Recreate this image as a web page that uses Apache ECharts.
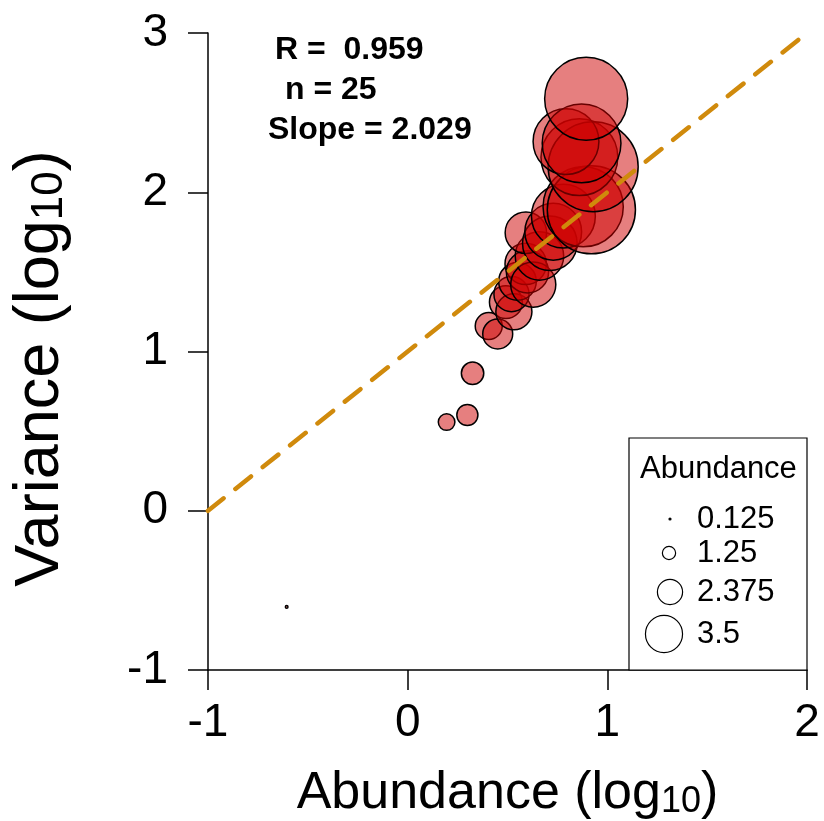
<!DOCTYPE html>
<html>
<head>
<meta charset="utf-8">
<script src="https://cdn.jsdelivr.net/npm/echarts@6/dist/echarts.min.js"></script>
<style>
html,body{margin:0;padding:0;background:#fff;}
#chart{width:824px;height:821px;}
</style>
</head>
<body>
<div id="chart"></div>
<script>
// log10 abundance
const abundanceLog = [-0.606, 0.195, 0.299, 0.325, 0.406, 0.451, 0.492, 0.532, 0.52, 0.55, 0.591, 0.60, 0.629, 0.66, 0.592, 0.712, 0.729, 0.78, 0.879, 0.92, 0.86, 0.929, 0.793, 0.871, 0.894];
// log10 variance
const varianceLog = [-0.604, 0.557, 0.601, 0.863, 1.16, 1.11, 1.31, 1.25, 1.36, 1.44, 1.55, 1.50, 1.42, 1.60, 1.746, 1.68, 1.752, 1.85, 1.909, 1.89, 2.22, 2.16, 2.318, 2.307, 2.587];
const fitX = [-1, 2];
const fitY = [0, 3];
const xTicks = [-1, 0, 1, 2];
const yTicks = [-1, 0, 1, 2, 3];
const legendValues = [0.125, 1.25, 2.375, 3.5];
const statsText = ['R =  0.959', 'n = 25', 'Slope = 2.029'];

const R_PER_UNIT = 5.3;

const chart = echarts.init(document.getElementById('chart'));
const FONT = '"Liberation Sans", Arial, sans-serif';

const pts = abundanceLog.map((x, i) => [x, varianceLog[i]]);
const fit = fitX.map((x, i) => [x, fitY[i]]);

const gridLeft = 208, gridTop = 33, gridRight = 17, gridBottom = 151;

const legendGraphics = [];
const legTop = 438, legLeft = 629, legRight = 807, legBottom = 670;
legendGraphics.push({
  type: 'rect', shape: {x: legLeft, y: legTop, width: legRight - legLeft, height: legBottom - legTop},
  style: {fill: '#fff', stroke: '#000', lineWidth: 1.2}, z: 50
});
legendGraphics.push({
  type: 'text', x: 640, y: 469, z: 51,
  style: {text: 'Abundance', font: '31px ' + FONT, fill: '#000', textVerticalAlign: 'middle', textAlign: 'left'}
});
const legRowY = [519, 553, 592, 634];
const legCX = [670, 669, 670, 664];
legendValues.forEach((v, i) => {
  legendGraphics.push({
    type: 'circle', z: 51,
    shape: {cx: legCX[i], cy: legRowY[i], r: Math.max(R_PER_UNIT * v, 1)},
    style: {fill: v < 0.5 ? '#000' : 'none', stroke: '#000', lineWidth: 1.2}
  });
  legendGraphics.push({
    type: 'text', x: 697, y: legRowY[i], z: 51,
    style: {text: String(v), font: '31px ' + FONT, fill: '#000', textVerticalAlign: 'middle', textAlign: 'left'}
  });
});
const statX = [275, 285, 268];
const statY = [50, 90, 130];
statsText.forEach((t, i) => {
  legendGraphics.push({
    type: 'text', x: statX[i], y: statY[i], z: 51,
    style: {text: t, font: 'bold 32px ' + FONT, fill: '#000', textVerticalAlign: 'middle', textAlign: 'left'}
  });
});

const axisCommon = {
  axisLine: {show: true, onZero: false, lineStyle: {color: '#000', width: 1.5}},
  axisTick: {show: true, inside: false, length: 20, lineStyle: {color: '#000', width: 1.5}},
  splitLine: {show: false},
  nameTextStyle: {fontFamily: FONT, color: '#000'}
};

chart.setOption({
  animation: false,
  backgroundColor: '#fff',
  grid: {left: gridLeft, top: gridTop, right: gridRight, bottom: gridBottom, containLabel: false, outerBoundsMode: 'none'},
  xAxis: Object.assign({}, axisCommon, {
    type: 'value', min: xTicks[0], max: xTicks[xTicks.length - 1], interval: 1,
    axisLabel: {fontFamily: FONT, fontSize: 46, color: '#000', margin: 30},
    name: '{a|Abundance (log}{s|10}{a|)}', nameLocation: 'middle', nameGap: 96,
    nameTextStyle: {rich: {
      a: {fontFamily: FONT, fontSize: 52, color: '#000', verticalAlign: 'bottom'},
      s: {fontFamily: FONT, fontSize: 36, color: '#000', padding: [18, 0, 0, 0], verticalAlign: 'bottom'}
    }}
  }),
  yAxis: Object.assign({}, axisCommon, {
    type: 'value', min: yTicks[0], max: yTicks[yTicks.length - 1], interval: 1,
    axisLabel: {fontFamily: FONT, fontSize: 46, color: '#000', margin: 40},
    name: '{a|Variance (log}{s|10}{a|)}', nameLocation: 'middle', nameGap: 136, nameRotate: 90,
    nameTextStyle: {padding: [0, 34, 0, 0], rich: {
      a: {fontFamily: FONT, fontSize: 63, color: '#000', verticalAlign: 'bottom'},
      s: {fontFamily: FONT, fontSize: 44, color: '#000', padding: [21, 0, 0, 0], verticalAlign: 'bottom'}
    }}
  }),
  series: [
    {
      type: 'scatter', data: pts, z: 2,
      symbol: 'circle',
      symbolSize: function (val) { return 2 * R_PER_UNIT * Math.pow(10, val[0]); },
      itemStyle: {color: 'rgba(205,0,0,0.5)', borderColor: '#000', borderWidth: 1.5, opacity: 1}
    },
    {
      type: 'line', data: fit, z: 5, symbol: 'none',
      lineStyle: {color: '#D08A0C', width: 4.5, type: [20, 15], cap: 'round'}
    }
  ],
  graphic: legendGraphics
});
</script>
</body>
</html>
